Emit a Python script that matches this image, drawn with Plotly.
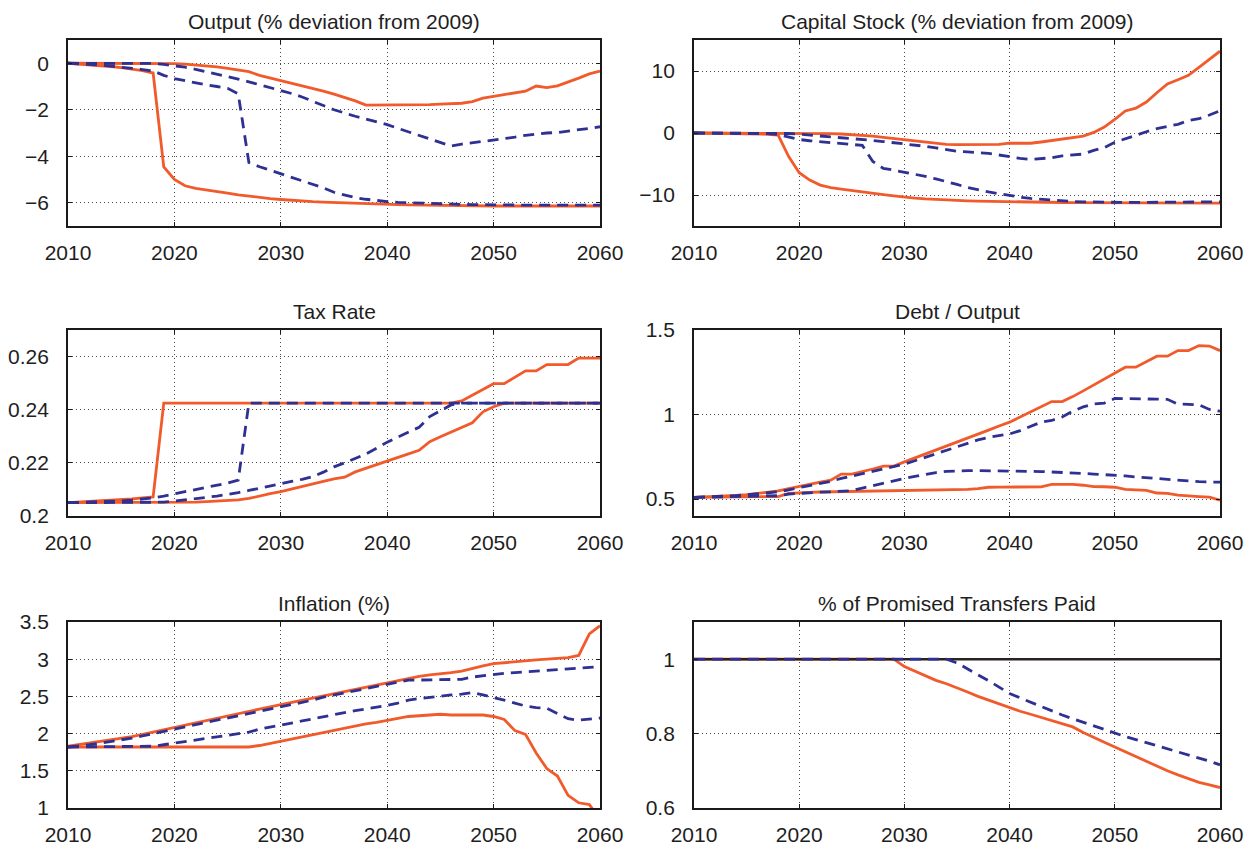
import plotly.graph_objects as go

# ---------------------------------------------------------------------------
# Annual paths, 2010-2060
# ---------------------------------------------------------------------------
years = list(range(2010, 2061))

# Output (% deviation from 2009)
output_red_late = [0.00, 0.00, 0.00, 0.00, 0.00, 0.00, 0.00, 0.00, -0.01, -0.01,
                   -0.02, -0.04, -0.07, -0.11, -0.16, -0.22, -0.28, -0.36, -0.52, -0.63,
                   -0.73, -0.84, -0.95, -1.07, -1.20, -1.33, -1.47, -1.62, -1.80, -1.80,
                   -1.80, -1.80, -1.80, -1.79, -1.78, -1.76, -1.73, -1.72, -1.65, -1.50,
                   -1.42, -1.35, -1.26, -1.20, -0.98, -1.05, -0.97, -0.82, -0.64, -0.46,
                   -0.34]
output_red_early = [0.00, -0.03, -0.06, -0.10, -0.14, -0.19, -0.25, -0.32, -0.42, -4.46,
                    -5.00, -5.27, -5.38, -5.46, -5.53, -5.59, -5.66, -5.72, -5.77, -5.82,
                    -5.86, -5.90, -5.93, -5.95, -5.97, -5.99, -6.01, -6.03, -6.05, -6.06,
                    -6.07, -6.08, -6.09, -6.10, -6.11, -6.12, -6.13, -6.13, -6.13, -6.13,
                    -6.14, -6.14, -6.14, -6.14, -6.14, -6.14, -6.14, -6.14, -6.14, -6.14,
                    -6.14]
output_blue_late = [0.00, 0.00, 0.00, 0.00, 0.00, 0.00, 0.00, 0.00, -0.01, -0.05,
                    -0.10, -0.17, -0.26, -0.36, -0.47, -0.57, -0.68, -0.80, -0.92, -1.04,
                    -1.16, -1.30, -1.45, -1.62, -1.82, -2.00, -2.15, -2.28, -2.40, -2.52,
                    -2.64, -2.80, -2.95, -3.10, -3.26, -3.42, -3.56, -3.48, -3.42, -3.38,
                    -3.33, -3.26, -3.18, -3.10, -3.04, -3.00, -2.98, -2.93, -2.86, -2.80,
                    -2.73]
output_blue_early = [0.00, -0.02, -0.05, -0.08, -0.12, -0.16, -0.21, -0.27, -0.33, -0.52,
                     -0.66, -0.76, -0.85, -0.93, -1.00, -1.08, -1.32, -4.27, -4.45, -4.60,
                     -4.76, -4.92, -5.08, -5.22, -5.36, -5.55, -5.68, -5.78, -5.85, -5.91,
                     -5.95, -5.98, -6.00, -6.02, -6.04, -6.05, -6.06, -6.07, -6.08, -6.09,
                     -6.09, -6.09, -6.10, -6.10, -6.10, -6.10, -6.10, -6.10, -6.10, -6.10,
                     -6.10]

# Capital stock (% deviation from 2009)
capital_red_late = [0.00, 0.00, 0.00, 0.00, 0.00, 0.00, 0.00, 0.00, 0.00, 0.00,
                    0.00, -0.02, -0.05, -0.10, -0.16, -0.25, -0.35, -0.50, -0.70, -0.90,
                    -1.10, -1.30, -1.50, -1.70, -1.85, -1.87, -1.88, -1.88, -1.87, -1.85,
                    -1.65, -1.60, -1.65, -1.45, -1.20, -1.00, -0.80, -0.50, 0.10, 0.95,
                    2.20, 3.55, 4.00, 5.00, 6.50, 7.90, 8.60, 9.30, 10.60, 11.90,
                    13.20]
capital_red_early = [0.00, -0.02, -0.04, -0.06, -0.09, -0.12, -0.16, -0.20, -0.35, -3.80,
                     -6.40, -7.60, -8.40, -8.80, -9.05, -9.30, -9.55, -9.75, -9.95, -10.15,
                     -10.35, -10.50, -10.62, -10.72, -10.80, -10.88, -10.94, -10.99, -11.03, -11.06,
                     -11.09, -11.12, -11.15, -11.17, -11.19, -11.21, -11.22, -11.23, -11.24, -11.25,
                     -11.26, -11.26, -11.27, -11.27, -11.28, -11.28, -11.28, -11.29, -11.29, -11.30,
                     -11.30]
capital_blue_late = [0.00, 0.00, 0.00, 0.00, 0.00, 0.00, 0.00, 0.00, 0.00, -0.08,
                     -0.20, -0.33, -0.47, -0.60, -0.75, -0.90, -1.05, -1.20, -1.38, -1.55,
                     -1.75, -1.95, -2.15, -2.40, -2.70, -2.95, -3.05, -3.15, -3.30, -3.55,
                     -3.85, -4.10, -4.25, -4.15, -4.00, -3.70, -3.55, -3.40, -2.80, -2.35,
                     -1.50, -0.90, -0.40, 0.20, 0.70, 1.00, 1.40, 2.00, 2.30, 2.90,
                     3.60]
capital_blue_early = [0.00, -0.01, -0.02, -0.03, -0.04, -0.05, -0.07, -0.10, -0.25, -0.70,
                      -1.05, -1.25, -1.40, -1.50, -1.60, -1.75, -2.00, -4.60, -5.70, -6.00,
                      -6.30, -6.60, -7.00, -7.40, -7.80, -8.30, -8.80, -9.20, -9.50, -9.80,
                      -10.10, -10.35, -10.55, -10.70, -10.85, -10.95, -11.05, -11.10, -11.15, -11.20,
                      -11.20, -11.20, -11.19, -11.18, -11.17, -11.16, -11.15, -11.14, -11.13, -11.12,
                      -11.10]

# Tax rate
tax_red_early = [0.2050, 0.2052, 0.2054, 0.2056, 0.2058, 0.2061, 0.2064, 0.2068, 0.2072, 0.2425,
                 0.2425, 0.2425, 0.2425, 0.2425, 0.2425, 0.2425, 0.2425, 0.2425, 0.2425, 0.2425,
                 0.2425, 0.2425, 0.2425, 0.2425, 0.2425, 0.2425, 0.2425, 0.2425, 0.2425, 0.2425,
                 0.2425, 0.2425, 0.2425, 0.2425, 0.2425, 0.2425, 0.2425, 0.2433, 0.2455, 0.2477,
                 0.2498, 0.2498, 0.2522, 0.2546, 0.2546, 0.2570, 0.2570, 0.2570, 0.2594, 0.2594,
                 0.2594]
tax_red_late = [0.2050, 0.2050, 0.2050, 0.2050, 0.2050, 0.2050, 0.2050, 0.2050, 0.2050, 0.2050,
                0.2050, 0.2051, 0.2052, 0.2054, 0.2056, 0.2058, 0.2061, 0.2066, 0.2076, 0.2084,
                0.2092, 0.2101, 0.2110, 0.2120, 0.2130, 0.2140, 0.2146, 0.2166, 0.2180, 0.2193,
                0.2206, 0.2220, 0.2234, 0.2247, 0.2280, 0.2298, 0.2316, 0.2334, 0.2351, 0.2392,
                0.2411, 0.2425, 0.2425, 0.2425, 0.2425, 0.2425, 0.2425, 0.2425, 0.2425, 0.2425,
                0.2425]
tax_blue_late = [0.2050, 0.2050, 0.2050, 0.2050, 0.2050, 0.2050, 0.2050, 0.2050, 0.2050, 0.2052,
                 0.2056, 0.2060, 0.2065, 0.2070, 0.2075, 0.2081, 0.2088, 0.2096, 0.2105, 0.2114,
                 0.2123, 0.2130, 0.2138, 0.2148, 0.2165, 0.2185, 0.2200, 0.2215, 0.2233, 0.2255,
                 0.2278, 0.2297, 0.2315, 0.2334, 0.2374, 0.2395, 0.2418, 0.2425, 0.2425, 0.2425,
                 0.2425, 0.2425, 0.2425, 0.2425, 0.2425, 0.2425, 0.2425, 0.2425, 0.2425, 0.2425,
                 0.2425]
tax_blue_early = [0.2050, 0.2051, 0.2052, 0.2053, 0.2055, 0.2057, 0.2060, 0.2064, 0.2068, 0.2075,
                  0.2083, 0.2091, 0.2099, 0.2107, 0.2115, 0.2124, 0.2135, 0.2425, 0.2425, 0.2425,
                  0.2425, 0.2425, 0.2425, 0.2425, 0.2425, 0.2425, 0.2425, 0.2425, 0.2425, 0.2425,
                  0.2425, 0.2425, 0.2425, 0.2425, 0.2425, 0.2425, 0.2425, 0.2425, 0.2425, 0.2425,
                  0.2425, 0.2425, 0.2425, 0.2425, 0.2425, 0.2425, 0.2425, 0.2425, 0.2425, 0.2425,
                  0.2425]

# Debt / output
debt_red_late = [0.510, 0.512, 0.515, 0.518, 0.522, 0.527, 0.533, 0.540, 0.548, 0.562,
                 0.576, 0.588, 0.600, 0.612, 0.648, 0.648, 0.662, 0.678, 0.695, 0.695,
                 0.720, 0.743, 0.767, 0.790, 0.814, 0.838, 0.861, 0.885, 0.908, 0.932,
                 0.955, 0.985, 1.015, 1.046, 1.077, 1.077, 1.106, 1.140, 1.175, 1.210,
                 1.245, 1.280, 1.280, 1.315, 1.345, 1.345, 1.378, 1.378, 1.408, 1.405,
                 1.378]
debt_blue_late = [0.510, 0.512, 0.514, 0.517, 0.521, 0.525, 0.530, 0.536, 0.543, 0.555,
                  0.567, 0.578, 0.590, 0.605, 0.622, 0.636, 0.650, 0.665, 0.680, 0.694,
                  0.707, 0.727, 0.748, 0.768, 0.789, 0.810, 0.830, 0.850, 0.865, 0.875,
                  0.885, 0.905, 0.930, 0.955, 0.965, 0.985, 1.020, 1.045, 1.062, 1.068,
                  1.095, 1.095, 1.093, 1.092, 1.091, 1.090, 1.062, 1.060, 1.058, 1.030,
                  1.020]
debt_blue_early = [0.510, 0.511, 0.512, 0.513, 0.514, 0.515, 0.516, 0.517, 0.520, 0.530,
                   0.535, 0.538, 0.541, 0.543, 0.545, 0.550, 0.565, 0.580, 0.594, 0.608,
                   0.622, 0.634, 0.646, 0.657, 0.664, 0.667, 0.668, 0.668, 0.668, 0.667,
                   0.666, 0.665, 0.664, 0.663, 0.661, 0.659, 0.656, 0.652, 0.648, 0.645,
                   0.642, 0.637, 0.631, 0.626, 0.621, 0.616, 0.611, 0.606, 0.603, 0.601,
                   0.600]
debt_red_early = [0.510, 0.511, 0.511, 0.512, 0.512, 0.513, 0.513, 0.514, 0.515, 0.533,
                  0.538, 0.540, 0.542, 0.543, 0.544, 0.545, 0.546, 0.547, 0.547, 0.548,
                  0.549, 0.552, 0.555, 0.555, 0.556, 0.556, 0.557, 0.562, 0.570, 0.571,
                  0.571, 0.571, 0.571, 0.572, 0.587, 0.588, 0.587, 0.582, 0.574, 0.573,
                  0.570, 0.558, 0.556, 0.552, 0.536, 0.534, 0.523, 0.517, 0.515, 0.512,
                  0.494]

# Inflation (%)
infl_red_late = [1.83, 1.85, 1.87, 1.89, 1.91, 1.93, 1.96, 1.99, 2.02, 2.06,
                 2.09, 2.12, 2.15, 2.18, 2.21, 2.24, 2.27, 2.30, 2.33, 2.36,
                 2.39, 2.42, 2.45, 2.48, 2.51, 2.54, 2.57, 2.60, 2.63, 2.66,
                 2.69, 2.72, 2.75, 2.77, 2.79, 2.80, 2.82, 2.84, 2.88, 2.91,
                 2.94, 2.955, 2.97, 2.98, 2.99, 3.00, 3.01, 3.02, 3.05, 3.34,
                 3.45]
infl_blue_late = [1.82, 1.83, 1.85, 1.87, 1.89, 1.91, 1.94, 1.97, 2.00, 2.03,
                  2.06, 2.09, 2.12, 2.15, 2.18, 2.21, 2.24, 2.27, 2.30, 2.33,
                  2.36, 2.39, 2.42, 2.45, 2.49, 2.52, 2.55, 2.58, 2.61, 2.64,
                  2.67, 2.70, 2.72, 2.72, 2.72, 2.72, 2.72, 2.73, 2.76, 2.78,
                  2.80, 2.81, 2.82, 2.83, 2.84, 2.85, 2.86, 2.87, 2.88, 2.89,
                  2.90]
infl_blue_early = [1.82, 1.82, 1.82, 1.82, 1.82, 1.82, 1.82, 1.82, 1.83, 1.85,
                   1.87, 1.89, 1.91, 1.93, 1.95, 1.97, 1.99, 2.02, 2.06, 2.09,
                   2.11, 2.14, 2.17, 2.20, 2.23, 2.26, 2.29, 2.31, 2.33, 2.35,
                   2.38, 2.41, 2.45, 2.47, 2.49, 2.51, 2.52, 2.53, 2.55, 2.52,
                   2.49, 2.45, 2.41, 2.37, 2.35, 2.34, 2.27, 2.20, 2.18, 2.20,
                   2.21]
infl_red_early = [1.82, 1.82, 1.82, 1.82, 1.82, 1.82, 1.82, 1.82, 1.82, 1.82,
                  1.82, 1.82, 1.82, 1.82, 1.82, 1.82, 1.82, 1.82, 1.84, 1.87,
                  1.89, 1.92, 1.95, 1.98, 2.01, 2.05, 2.08, 2.11, 2.13, 2.15,
                  2.18, 2.20, 2.23, 2.24, 2.25, 2.26, 2.25, 2.25, 2.25, 2.25,
                  2.23, 2.19, 2.04, 1.99, 1.74, 1.53, 1.43, 1.17, 1.07, 1.045,
                  0.85]

# Share of promised transfers paid
transfers_promised = [1.0] * 51
transfers_red = [1.000, 1.000, 1.000, 1.000, 1.000, 1.000, 1.000, 1.000, 1.000, 1.000,
                 1.000, 1.000, 1.000, 1.000, 1.000, 1.000, 1.000, 1.000, 1.000, 1.000,
                 0.980, 0.967, 0.955, 0.943, 0.934, 0.924, 0.912, 0.900, 0.890, 0.879,
                 0.868, 0.860, 0.852, 0.844, 0.836, 0.828, 0.818, 0.803, 0.789, 0.777,
                 0.764, 0.751, 0.739, 0.724, 0.711, 0.700, 0.689, 0.678, 0.669, 0.662,
                 0.655]
transfers_blue = [1.000, 1.000, 1.000, 1.000, 1.000, 1.000, 1.000, 1.000, 1.000, 1.000,
                  1.000, 1.000, 1.000, 1.000, 1.000, 1.000, 1.000, 1.000, 1.000, 1.000,
                  1.000, 1.000, 1.000, 1.000, 1.000, 0.990, 0.975, 0.958, 0.942, 0.925,
                  0.908, 0.896, 0.884, 0.872, 0.861, 0.850, 0.840, 0.830, 0.820, 0.810,
                  0.800, 0.792, 0.784, 0.776, 0.768, 0.760, 0.752, 0.744, 0.735, 0.726,
                  0.716]

# Axis ticks
year_ticks = [2010, 2020, 2030, 2040, 2050, 2060]
output_ticks = [-6, -4, -2, 0]
capital_ticks = [-10, 0, 10]
tax_ticks = [0.2, 0.22, 0.24, 0.26]
debt_ticks = [0.5, 1, 1.5]
infl_ticks = [1, 1.5, 2, 2.5, 3, 3.5]
transfer_ticks = [0.6, 0.8, 1]

RED = "#f15a2b"
BLUE = "#2e3192"
DARK = "#2a2220"
FONT = "Liberation Sans, Arial, sans-serif"
TXT = "#1e1e1e"

panels = [
    dict(title="Output (% deviation from 2009)", yr=[-7, 1], ticks=output_ticks,
         text=["\u22126", "\u22124", "\u22122", "0"],
         red=[output_red_late, output_red_early], blue=[output_blue_late, output_blue_early]),
    dict(title="Capital Stock (% deviation from 2009)", yr=[-15, 15], ticks=capital_ticks,
         text=["\u221210", "0", "10"],
         red=[capital_red_late, capital_red_early], blue=[capital_blue_late, capital_blue_early]),
    dict(title="Tax Rate", yr=[0.2, 0.27], ticks=tax_ticks,
         text=["0.2", "0.22", "0.24", "0.26"],
         red=[tax_red_early, tax_red_late], blue=[tax_blue_late, tax_blue_early]),
    dict(title="Debt / Output", yr=[0.4, 1.5], ticks=debt_ticks,
         text=["0.5", "1", "1.5"],
         red=[debt_red_late, debt_red_early], blue=[debt_blue_late, debt_blue_early]),
    dict(title="Inflation (%)", yr=[1, 3.5], ticks=infl_ticks,
         text=["1", "1.5", "2", "2.5", "3", "3.5"],
         red=[infl_red_late, infl_red_early], blue=[infl_blue_late, infl_blue_early]),
    dict(title="% of Promised Transfers Paid", yr=[0.6, 1.1], ticks=transfer_ticks,
         text=["0.6", "0.8", "1"],
         red=[transfers_red], black=[transfers_promised], blue=[transfers_blue]),
]

# Panel boxes in pixels (left, right) and (top, bottom) of a 1256 x 849 page
W, H = 1256, 849
cols_px = [(68, 600), (694, 1220)]
rows_px = [(40, 226), (330, 516), (622, 808)]

fig = go.Figure()
layout = dict(
    template="none",
    width=W, height=H,
    margin=dict(l=0, r=0, t=0, b=0, autoexpand=False),
    paper_bgcolor="white", plot_bgcolor="white",
    showlegend=False,
    font=dict(family=FONT, size=21, color=TXT),
    annotations=[],
)

for i, p in enumerate(panels):
    r, c = divmod(i, 2)
    n = i + 1
    xa = "x" if n == 1 else f"x{n}"
    ya = "y" if n == 1 else f"y{n}"
    for vals in p["red"]:
        fig.add_trace(go.Scatter(x=years, y=vals, mode="lines", xaxis=xa, yaxis=ya,
                                 line=dict(color=RED, width=2.8)))
    for vals in p.get("black", []):
        fig.add_trace(go.Scatter(x=years, y=vals, mode="lines", xaxis=xa, yaxis=ya,
                                 line=dict(color=DARK, width=2.6)))
    for vals in p["blue"]:
        fig.add_trace(go.Scatter(x=years, y=vals, mode="lines", xaxis=xa, yaxis=ya,
                                 line=dict(color=BLUE, width=2.8, dash="11px,7px")))

    x0, x1 = cols_px[c]
    t0, t1 = rows_px[r]
    xdom = [x0 / W, x1 / W]
    ydom = [1 - t1 / H, 1 - t0 / H]
    common = dict(showline=True, linecolor="#1a1a1a", linewidth=1.8, mirror="ticks",
                  ticks="inside", ticklen=4, tickwidth=1, tickcolor="#1a1a1a",
                  showgrid=True, gridcolor="#4a4a4a", gridwidth=1, griddash="1px,3px",
                  zeroline=False, automargin=False,
                  tickfont=dict(family=FONT, size=21, color=TXT))
    layout["xaxis" if n == 1 else f"xaxis{n}"] = dict(
        domain=xdom, anchor=ya, range=[2010, 2060], tickmode="array",
        tickvals=year_ticks, ticktext=[str(v) for v in year_ticks],
        ticklabelstandoff=7, **common)
    layout["yaxis" if n == 1 else f"yaxis{n}"] = dict(
        domain=ydom, anchor=xa, range=p["yr"], tickmode="array",
        tickvals=p["ticks"], ticktext=p["text"], ticklabelstandoff=13, **common)
    layout["annotations"].append(dict(
        text=p["title"], xref="paper", yref="paper",
        x=(xdom[0] + xdom[1]) / 2, y=ydom[1], xanchor="center", yanchor="bottom",
        yshift=5, showarrow=False, font=dict(family=FONT, size=21, color=TXT)))

fig.update_layout(**layout)
fig.write_html("out.html")
